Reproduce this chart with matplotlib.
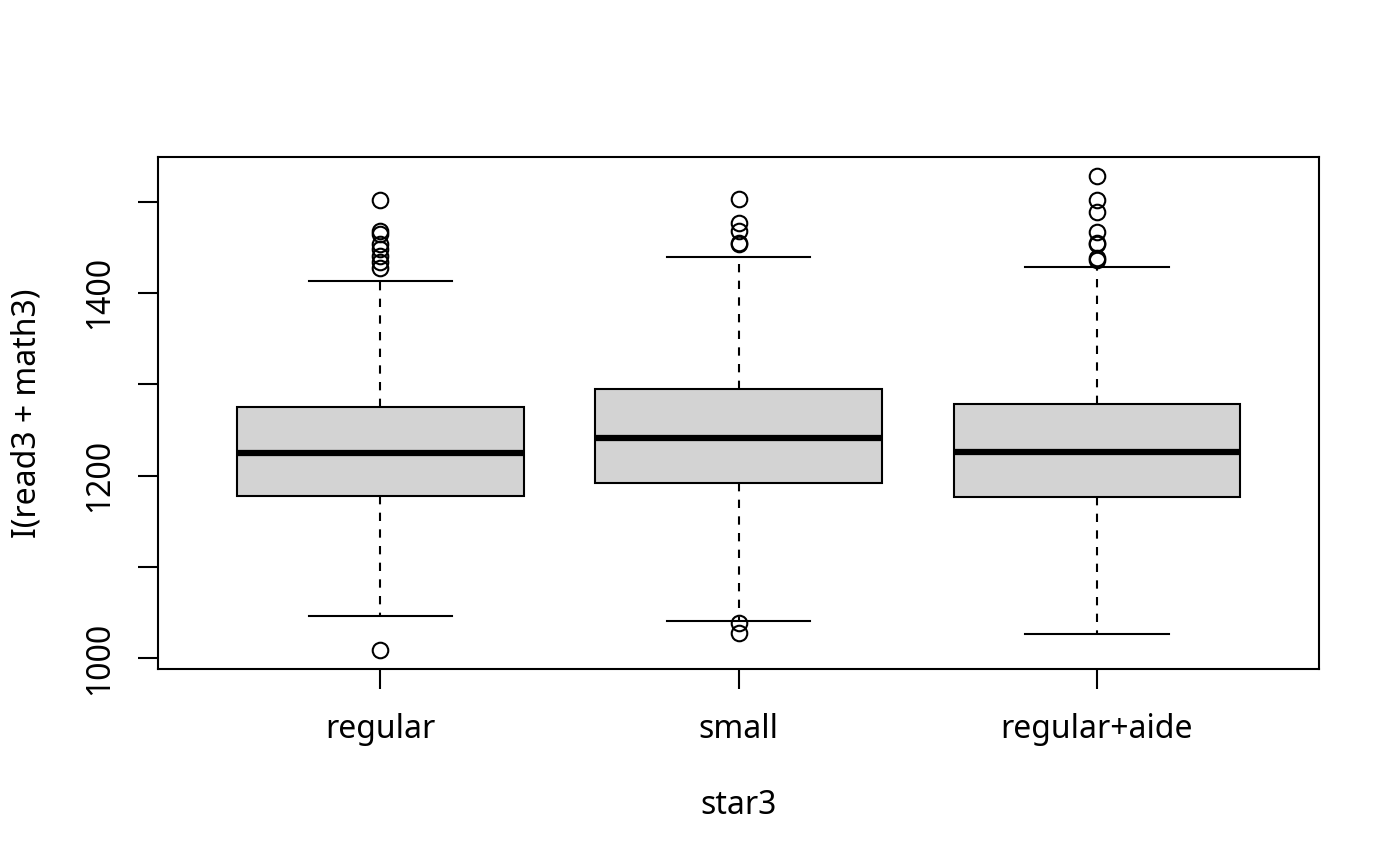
import matplotlib
matplotlib.use("Agg")
import matplotlib.pyplot as plt

plt.rcParams['font.family'] = ['Noto Sans', 'DejaVu Sans']

categories = ["regular", "small", "regular+aide"]
q1 = [1178, 1192, 1176]
med = [1225, 1241, 1226]
q3 = [1275, 1295, 1278]
whislo = [1046, 1041, 1027]
whishi = [1413, 1439, 1428]
fliers = [
    [1502, 1468, 1465, 1454, 1448, 1440, 1434, 1427, 1009],
    [1503, 1476, 1468, 1455, 1454, 1039, 1028],
    [1528, 1502, 1489, 1467, 1455, 1454, 1438, 1436],
]
yticks = [1000, 1100, 1200, 1300, 1400, 1500]
ytick_labels = ["1000", "", "1200", "", "1400", ""]

stats = []
for i, c in enumerate(categories):
    stats.append(dict(label=c, q1=q1[i], med=med[i], q3=q3[i],
                      whislo=whislo[i], whishi=whishi[i], fliers=fliers[i]))

fig = plt.figure(figsize=(7, 4.33), dpi=200)
ax = fig.add_axes([158/1400, (866-669)/866, (1319-158)/1400, (669-157)/866])

ax.bxp(stats, positions=[1, 2, 3], widths=0.8, capwidths=0.4, patch_artist=True,
       boxprops=dict(facecolor='#D3D3D3', edgecolor='black', linewidth=0.75),
       medianprops=dict(color='black', linewidth=2.25, solid_capstyle='butt'),
       whiskerprops=dict(color='black', linewidth=0.75, linestyle=(0, (4, 4))),
       capprops=dict(color='black', linewidth=0.75),
       flierprops=dict(marker='o', markerfacecolor='none', markeredgecolor='black',
                       markersize=5.6, markeredgewidth=0.75, linestyle='none'))

ax.set_xlim(0.38, 3.62)
ax.set_ylim(988.2, 1548.8)
ax.set_yticks(yticks)
ax.set_yticklabels(ytick_labels, rotation=90, va='center')
ax.set_xticks([1, 2, 3])
ax.set_xticklabels(categories)
ax.tick_params(axis='both', length=7.2, width=0.75, labelsize=11.5, color='black')
ax.tick_params(axis='x', pad=8.5)
ax.tick_params(axis='y', pad=8)
for s in ax.spines.values():
    s.set_linewidth(0.75)

ax.set_xlabel("star3", fontsize=11.5)
ax.set_ylabel("I(read3 + math3)", fontsize=11.5)
ax.xaxis.set_label_coords(0.5, (669-805)/512)
ax.xaxis.label.set_va('center')
ax.yaxis.set_label_coords((27-158)/1161, 0.5)
ax.yaxis.label.set_va('center')

fig.savefig("out.png", dpi=200)
